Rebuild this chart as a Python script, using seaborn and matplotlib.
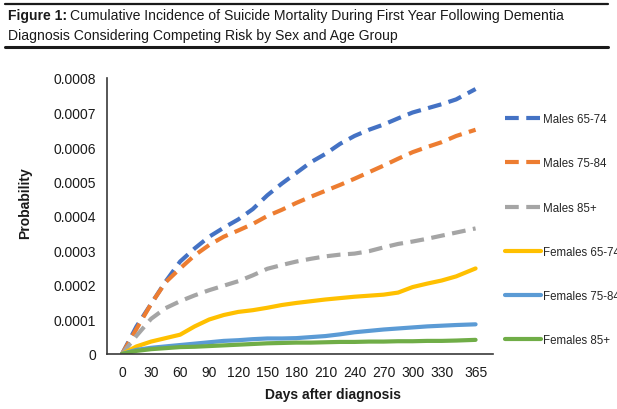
import pandas as pd
import matplotlib.pyplot as plt
import seaborn as sns
from matplotlib.lines import Line2D

# Data (cumulative incidence by day)
days = [0, 15, 30, 45, 60, 75, 90, 105, 120, 135, 150, 165, 180, 195,
        210, 225, 240, 255, 270, 285, 300, 315, 330, 345, 365]

males_65_74 = [0, 0.000080, 0.000145, 0.000210, 0.000268, 0.000306, 0.000340,
               0.000366, 0.000390, 0.000420, 0.000460, 0.000494, 0.000525,
               0.000556, 0.000580, 0.000609, 0.000632, 0.000650, 0.000665,
               0.000683, 0.000700, 0.000712, 0.000724, 0.000738, 0.000768]
males_75_84 = [0, 0.000073, 0.000145, 0.000208, 0.000248, 0.000286, 0.000316,
               0.000340, 0.000358, 0.000377, 0.000400, 0.000418, 0.000438,
               0.000456, 0.000473, 0.000490, 0.000508, 0.000527, 0.000546,
               0.000566, 0.000585, 0.000600, 0.000614, 0.000632, 0.000650]
males_85 = [0, 0.000053, 0.000102, 0.000133, 0.000153, 0.000170, 0.000185,
            0.000198, 0.000211, 0.000228, 0.000247, 0.000258, 0.000268,
            0.000276, 0.000283, 0.000288, 0.000291, 0.000298, 0.000309,
            0.000319, 0.000326, 0.000334, 0.000343, 0.000352, 0.000364]
females_65_74 = [0, 0.000022, 0.000036, 0.000046, 0.000056, 0.000080, 0.000100,
                 0.000113, 0.000122, 0.000127, 0.000134, 0.000142, 0.000148,
                 0.000153, 0.000158, 0.000162, 0.000166, 0.000169, 0.000172,
                 0.000178, 0.000194, 0.000204, 0.000213, 0.000225, 0.000248]
females_75_84 = [0, 0.000012, 0.000018, 0.000022, 0.000026, 0.000030, 0.000034,
                 0.000038, 0.000040, 0.000043, 0.000045, 0.000045, 0.000046,
                 0.000049, 0.000052, 0.000057, 0.000063, 0.000067, 0.000071,
                 0.000074, 0.000077, 0.000080, 0.000082, 0.000084, 0.000086]
females_85 = [0, 0.000009, 0.000014, 0.000017, 0.000020, 0.000021, 0.000023,
              0.000025, 0.000027, 0.000029, 0.000031, 0.000032, 0.000033,
              0.000033, 0.000034, 0.000035, 0.000035, 0.000036, 0.000036,
              0.000037, 0.000037, 0.000038, 0.000038, 0.000039, 0.000041]

groups = ['Males 65-74', 'Males 75-84', 'Males 85+',
          'Females 65-74', 'Females 75-84', 'Females 85+']
series = [males_65_74, males_75_84, males_85,
          females_65_74, females_75_84, females_85]
colors = ['#4472C4', '#ED7D31', '#A5A5A5', '#FFC000', '#5B9BD5', '#70AD47']

x_ticks = [0, 30, 60, 90, 120, 150, 180, 210, 240, 270, 300, 330, 365]
y_ticks = [0, 0.0001, 0.0002, 0.0003, 0.0004, 0.0005, 0.0006, 0.0007, 0.0008]
y_ticklabels = ['0', '0.0001', '0.0002', '0.0003', '0.0004', '0.0005',
                '0.0006', '0.0007', '0.0008']

df = pd.DataFrame({
    'Day': days * len(groups),
    'Probability': [v for s in series for v in s],
    'Group': [g for g in groups for _ in days],
})

sns.set_theme(style='white')
plt.rcParams['font.family'] = ['Liberation Sans', 'DejaVu Sans']

fig = plt.figure(figsize=(6.17, 4.10), dpi=100)
ax = fig.add_axes([107 / 617, 55 / 410, 386 / 617, 276 / 410])

dash = (3.3, 1.8)
sns.lineplot(data=df, x='Day', y='Probability', hue='Group', style='Group',
             hue_order=groups, style_order=groups,
             palette=dict(zip(groups, colors)),
             dashes=dict(zip(groups, [dash, dash, dash, '', '', ''])),
             linewidth=3, ax=ax)

ax.set_xlim(-15.5, 383)
ax.set_ylim(0, 0.0008)
ax.set_xticks(x_ticks)
ax.set_yticks(y_ticks)
ax.set_yticklabels(y_ticklabels)
ax.tick_params(axis='both', length=0, labelsize=10, colors='#1a1a1a')
ax.tick_params(axis='y', pad=8)
ax.tick_params(axis='x', pad=8)
sns.despine(ax=ax)
for side in ['left', 'bottom']:
    ax.spines[side].set_color('#3a3a3a')
    ax.spines[side].set_linewidth(1.2)

ax.set_xlabel('Days after diagnosis', fontsize=10, fontweight='bold', color='#1a1a1a')
ax.set_ylabel('Probability', fontsize=10, fontweight='bold', color='#1a1a1a')
ax.xaxis.set_label_coords((333 - 107) / 386, -0.118)
ax.yaxis.set_label_coords(-0.195, 0.55)

sns.move_legend(ax, 'upper left', bbox_to_anchor=(505 / 617, 1 - 114 / 410),
                bbox_transform=fig.transFigure, frameon=False, title=None,
                fontsize=8.3, borderpad=0, borderaxespad=0,
                handlelength=3.1, handletextpad=0.17, labelspacing=2.8)
for h in ax.get_legend().get_lines():
    h.set_linewidth(3)

# Title block with rules
fig.add_artist(Line2D([5 / 617, 608 / 617], [1 - 5 / 410] * 2,
                      transform=fig.transFigure, color='#1a1a1a', lw=1.6))
fig.add_artist(Line2D([5 / 617, 608 / 617], [1 - 48 / 410] * 2,
                      transform=fig.transFigure, color='#1a1a1a', lw=2.2))
bold = fig.text(8 / 617, 1 - 16 / 410, 'Figure 1:', fontsize=10.1,
                fontweight='bold', va='center', ha='left', color='#1a1a1a')
fig.canvas.draw()
bb = bold.get_window_extent()
fig.text(bb.x1 / fig.bbox.width + 3 / 617, 1 - 16 / 410,
         'Cumulative Incidence of Suicide Mortality During First Year Following Dementia',
         fontsize=10.1, va='center', ha='left', color='#1a1a1a')
fig.text(8 / 617, 1 - 36 / 410,
         'Diagnosis Considering Competing Risk by Sex and Age Group',
         fontsize=10.1, va='center', ha='left', color='#1a1a1a')

fig.savefig('out.png', dpi=100)
